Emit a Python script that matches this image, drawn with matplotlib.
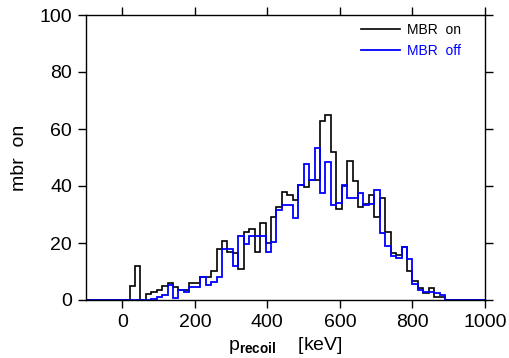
import matplotlib.pyplot as plt
import numpy as np

plt.rcParams['font.family'] = 'Liberation Sans'
plt.rcParams['mathtext.fontset'] = 'custom'
plt.rcParams['mathtext.rm'] = 'Liberation Sans'
plt.rcParams['mathtext.bf'] = 'Liberation Sans:bold'

# histogram binning (keV)
first_edge = 20
bin_width = 15
x_min, x_max = -100, 1000

# bin contents, starting at first_edge
mbr_on = [5.0, 12.0, 0, 2.0, 2.9, 3.5, 4.8, 6.1, 4.5, 3.5,
          3.5, 6.0, 6.0, 8.2, 8.2, 10.2, 17.9, 20.8, 17.0, 16.5,
          10.8, 23.8, 24.8, 17.0, 26.9, 20.0, 29.0, 32.7, 37.9, 37.0,
          35.0, 40.4, 39.5, 42.1, 42.1, 62.9, 64.8, 51.8, 31.8, 40.0,
          48.9, 41.9, 32.7, 33.8, 36.8, 29.0, 35.8, 24.0, 16.6, 15.8,
          18.6, 10.2, 6.8, 4.1, 2.6, 4.1, 1.2, 0.9]
mbr_off = [0, 0, 0, 0, 0.4, 1.2, 1.9, 5.3, 0.8, 3.5,
           2.9, 4.4, 4.4, 8.2, 5.3, 6.4, 8.2, 18.0, 18.0, 11.8,
           22.5, 19.6, 22.5, 22.5, 22.5, 17.0, 20.5, 31.5, 33.3, 33.3,
           28.8, 40.5, 47.8, 42.1, 53.2, 37.4, 48.5, 33.3, 33.9, 40.4,
           35.9, 35.9, 37.7, 33.2, 33.8, 38.6, 23.5, 19.0, 15.4, 14.6,
           18.6, 14.3, 5.6, 3.5, 2.9, 2.9, 2.3, 1.75]

edges = first_edge + bin_width * np.arange(len(mbr_on) + 1)
edges = np.concatenate([[x_min], edges, [x_max]])
on_vals = np.concatenate([[0], mbr_on, [0]])
off_vals = np.concatenate([[0], mbr_off, [0]])

fig = plt.figure(figsize=(5.1, 3.58), dpi=100)
ax = fig.add_axes([86/510, 58/358, 399/510, 285/358])

ax.stairs(on_vals, edges, color='black', lw=1.2, baseline=None, label='MBR  on')
ax.stairs(off_vals, edges, color='blue', lw=1.3, baseline=None, label='MBR  off')

ax.set_xlim(x_min, x_max)
ax.set_ylim(0, 100)
ax.set_xticks(np.arange(0, 1001, 200))
ax.set_yticks(np.arange(0, 101, 20))
ax.tick_params(direction='out', length=6, width=1, top=True, right=True,
               labelsize=14, pad=4)
for s in ax.spines.values():
    s.set_linewidth(1)

ax.set_xlabel(r'p$_{\mathbf{recoil}}$    [keV]', fontsize=14, labelpad=3)
ax.set_ylabel('mbr  on', fontsize=14, labelpad=8)

ax.legend(loc='upper right', frameon=False, fontsize=10, handlelength=2.8,
          handletextpad=0.5, labelspacing=0.45, labelcolor='linecolor',
          borderaxespad=0.2, bbox_to_anchor=(0.96, 1.0))

fig.savefig('out.png', dpi=100)
